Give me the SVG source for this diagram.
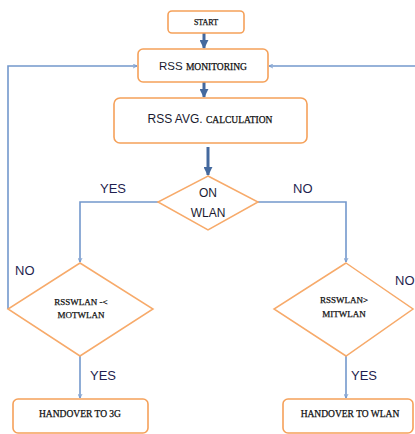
<svg xmlns="http://www.w3.org/2000/svg" width="415" height="434" viewBox="0 0 415 434">
<style>
.box{fill:#fff;stroke:#F5A15A;stroke-width:1.6}
.dia{fill:#fff;stroke:#F7AA6A;stroke-width:1.5}
.ln{fill:none;stroke:#7398CC;stroke-width:1.6}
.thick{fill:none;stroke:#44699E;stroke-width:3}
.sc{font-family:"Liberation Serif",serif;fill:#111;stroke:#111;stroke-width:0.25;text-anchor:middle}
.sa{font-family:"Liberation Sans",Arial,sans-serif;fill:#1A1A30;stroke:none}
.lab{font-family:"Liberation Sans",Arial,sans-serif;font-size:13px;fill:#1F1F50}
</style>
<defs>
<marker id="open" viewBox="0 0 10 10" refX="9" refY="5" markerWidth="5" markerHeight="5" orient="auto" markerUnits="userSpaceOnUse">
<path d="M1,1 L9,5 L1,9" fill="none" stroke="#7398CC" stroke-width="1.6"/>
</marker>
<marker id="solid" viewBox="0 0 10 10" refX="9" refY="5" markerWidth="3" markerHeight="3" orient="auto">
<path d="M0,0 L10,5 L0,10 Z" fill="#44699E"/>
</marker>
</defs>
<g id="connectors">
<line class="thick" x1="204" y1="33" x2="204" y2="48" marker-end="url(#solid)"/>
<line class="thick" x1="204" y1="82" x2="204" y2="97" marker-end="url(#solid)"/>
<line class="thick" x1="208" y1="147" x2="208" y2="175" marker-end="url(#solid)"/>
<polyline class="ln" points="158,202 80,202 80,262" marker-end="url(#open)"/>
<polyline class="ln" points="258,202 346,202 346,262" marker-end="url(#open)"/>
<polyline class="ln" points="8,309 8,66 137,66" marker-end="url(#open)"/>
<line class="ln" x1="416" y1="66" x2="269" y2="66" marker-end="url(#open)"/>
<line class="ln" x1="80" y1="356" x2="80" y2="398" marker-end="url(#open)"/>
<line class="ln" x1="346" y1="356" x2="346" y2="398" marker-end="url(#open)"/>
<text class="lab" x="100" y="193">YES</text>
<text class="lab" x="293" y="193">NO</text>
<text class="lab" x="15" y="275">NO</text>
<text class="lab" x="395" y="285">NO</text>
<text class="lab" x="90" y="380">YES</text>
<text class="lab" x="351" y="380">YES</text>
</g>
<g id="start">
<rect class="box" x="168" y="11" width="76" height="22" rx="4"/>
<text class="sc" x="206" y="25" font-size="8">START</text>
</g>
<g id="rss-monitoring">
<rect class="box" x="138" y="49" width="130" height="33" rx="5"/>
<text x="203" y="70" text-anchor="middle"><tspan class="sa" font-size="11.5">RSS </tspan><tspan class="sc" font-size="9.5">MONITORING</tspan></text>
</g>
<g id="rss-avg">
<rect class="box" x="114" y="98" width="193" height="45" rx="6"/>
<text x="210" y="123" text-anchor="middle"><tspan class="sa" font-size="12">RSS AVG. </tspan><tspan class="sc" font-size="9.5">CALCULATION</tspan></text>
</g>
<g id="on-wlan">
<polygon class="dia" points="208,176 258,202 208,230 158,202"/>
<text class="sa" x="208" y="197" font-size="12" text-anchor="middle">ON</text>
<text class="sa" x="208" y="217" font-size="12" text-anchor="middle">WLAN</text>
</g>
<g id="cond-left">
<polygon class="dia" points="80,263 153,309 80,356 8,309"/>
<text class="sc" x="81" y="305" font-size="9">RSSWLAN -&lt;</text>
<text class="sc" x="81" y="318" font-size="9">MOTWLAN</text>
</g>
<g id="cond-right">
<polygon class="dia" points="346,263 413,309 346,356 274,309"/>
<text class="sc" x="344" y="303" font-size="9">RSSWLAN&gt;</text>
<text class="sc" x="344" y="317" font-size="9">MITWLAN</text>
</g>
<g id="handover-3g">
<rect class="box" x="13" y="399" width="135" height="34" rx="5"/>
<text class="sc" x="80" y="417" font-size="9.5">HANDOVER TO 3G</text>
</g>
<g id="handover-wlan">
<rect class="box" x="283" y="399" width="130" height="34" rx="5"/>
<text class="sc" x="350" y="417" font-size="9.5">HANDOVER TO WLAN</text>
</g>
</svg>
